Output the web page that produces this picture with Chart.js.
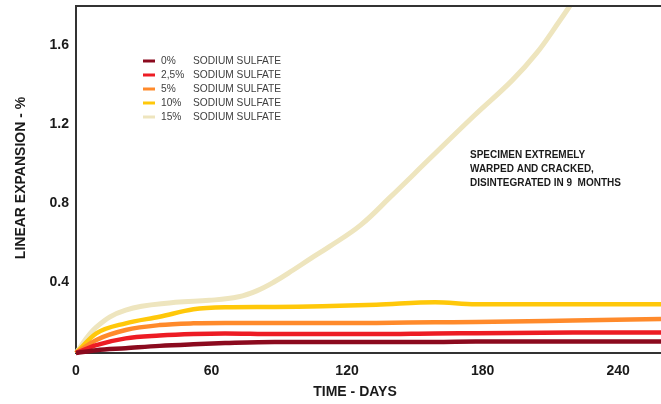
<!DOCTYPE html>
<html>
<head>
<meta charset="utf-8">
<script src="https://cdn.jsdelivr.net/npm/chart.js@4.4.1/dist/chart.umd.min.js"></script>
<style>
  html, body { margin: 0; padding: 0; background: #fff; }
  #wrap { width: 661px; height: 404px; position: relative; }
</style>
</head>
<body>
<div id="wrap"><canvas id="chart"></canvas></div>
<script>
// Sulfate expansion data
const seriesLabels = ['0%', '2,5%', '5%', '10%', '15%'];
const seriesColors = ['#8B0A1E', '#ED1C24', '#FF8A2B', '#FFC80A', '#EEE5BE'];

const daysFlat = [0, 9, 22, 37, 52, 66, 88, 133, 159, 177, 220, 259];
const pct0  = [0.044, 0.058, 0.068, 0.080, 0.088, 0.094, 0.100, 0.100, 0.100, 0.102, 0.102, 0.102];
const pct25 = [0.044, 0.084, 0.118, 0.132, 0.140, 0.143, 0.140, 0.140, 0.143, 0.144, 0.147, 0.147];
const pct5  = [0.044, 0.110, 0.160, 0.185, 0.194, 0.196, 0.195, 0.196, 0.199, 0.200, 0.208, 0.216];
const pct10 = [0.044, 0.143, 0.194, 0.227, 0.265, 0.275, 0.277, 0.288, 0.300, 0.290, 0.290, 0.290];

const days15 = [0, 9, 22, 44, 59, 72, 80, 88, 96, 104, 112, 126, 139, 157, 176, 193, 204, 214, 220];
const pct15  = [0.044, 0.175, 0.261, 0.300, 0.310, 0.328, 0.358, 0.405, 0.462, 0.522, 0.580, 0.690, 0.830, 1.030, 1.240, 1.420, 1.560, 1.720, 1.820];

const xTicks = [0, 60, 120, 180, 240];
const yTicks = [0.4, 0.8, 1.2, 1.6];
const noteLines = ['SPECIMEN EXTREMELY', 'WARPED AND CRACKED,', 'DISINTEGRATED IN 9  MONTHS'];

const toPoints = (xs, ys) => xs.map((x, i) => ({ x, y: ys[i] }));
const seriesData = [
  toPoints(daysFlat, pct0),
  toPoints(daysFlat, pct25),
  toPoints(daysFlat, pct5),
  toPoints(daysFlat, pct10),
  toPoints(days15, pct15)
];

const datasets = seriesLabels.map((label, i) => ({
  label,
  data: seriesData[i],
  borderColor: seriesColors[i],
  backgroundColor: seriesColors[i],
  borderWidth: i === 4 ? 5 : 4.5,
  pointRadius: 0,
  tension: 0.4,
  cubicInterpolationMode: i === 4 ? 'default' : 'monotone',
  clip: { left: 5, top: 0, right: 0, bottom: 5 }
}));

// Legend, note text, axis titles and top frame line
const decorations = {
  id: 'decorations',
  afterDraw(chart) {
    const { ctx, chartArea } = chart;
    ctx.save();

    // top frame
    ctx.strokeStyle = '#333';
    ctx.lineWidth = 2;
    ctx.beginPath();
    ctx.moveTo(chartArea.left - 1, chartArea.top);
    ctx.lineTo(chartArea.right, chartArea.top);
    ctx.stroke();

    // legend
    ctx.font = "10.2px 'Liberation Sans', Arial, sans-serif";
    ctx.textBaseline = 'middle';
    chart.data.datasets.forEach((ds, i) => {
      const y = 61 + i * 14;
      ctx.strokeStyle = ds.borderColor;
      ctx.lineWidth = 3;
      ctx.beginPath();
      ctx.moveTo(143, y);
      ctx.lineTo(155, y);
      ctx.stroke();
      ctx.fillStyle = '#404040';
      ctx.textAlign = 'left';
      ctx.fillText(ds.label, 161, y);
      ctx.fillText('SODIUM SULFATE', 193, y);
    });

    // note
    ctx.fillStyle = '#1a1a1a';
    ctx.font = "bold 10px 'Liberation Sans', Arial, sans-serif";
    noteLines.forEach((t, i) => ctx.fillText(t, 470, 155 + i * 14));

    // axis titles
    ctx.font = "bold 14px 'Liberation Sans', Arial, sans-serif";
    ctx.fillStyle = '#1a1a1a';
    ctx.textAlign = 'center';
    ctx.fillText('TIME - DAYS', 355, 392);
    ctx.translate(21, 178);
    ctx.rotate(-Math.PI / 2);
    ctx.fillText('LINEAR EXPANSION - %', 0, 0);

    ctx.restore();
  }
};

new Chart(document.getElementById('chart'), {
  type: 'line',
  data: { datasets },
  options: {
    responsive: true,
    maintainAspectRatio: false,
    animation: false,
    layout: { autoPadding: false, padding: { top: 6, right: 0, left: 0, bottom: 0 } },
    plugins: { legend: { display: false }, tooltip: { enabled: false } },
    scales: {
      x: {
        type: 'linear',
        min: 0,
        max: 259,
        afterBuildTicks: (s) => { s.ticks = xTicks.map(v => ({ value: v })); },
        afterFit: (s) => { s.height = 51; s.paddingLeft = 0; s.paddingRight = 0; },
        grid: { display: false, drawTicks: false },
        border: { display: true, color: '#333', width: 2 },
        ticks: {
          padding: 10,
          color: '#1a1a1a',
          font: { family: "'Liberation Sans', Arial, sans-serif", size: 14, weight: 'bold' }
        }
      },
      y: {
        type: 'linear',
        min: 0.044,
        max: 1.797,
        afterBuildTicks: (s) => { s.ticks = yTicks.map(v => ({ value: v })); },
        afterFit: (s) => { s.width = 76; s.paddingTop = 0; s.paddingBottom = 0; },
        grid: { display: false, drawTicks: false },
        border: { display: true, color: '#333', width: 2 },
        ticks: {
          padding: 7,
          color: '#1a1a1a',
          callback: (v) => v.toFixed(1),
          font: { family: "'Liberation Sans', Arial, sans-serif", size: 14, weight: 'bold' }
        }
      }
    }
  },
  plugins: [decorations]
});
</script>
</body>
</html>
